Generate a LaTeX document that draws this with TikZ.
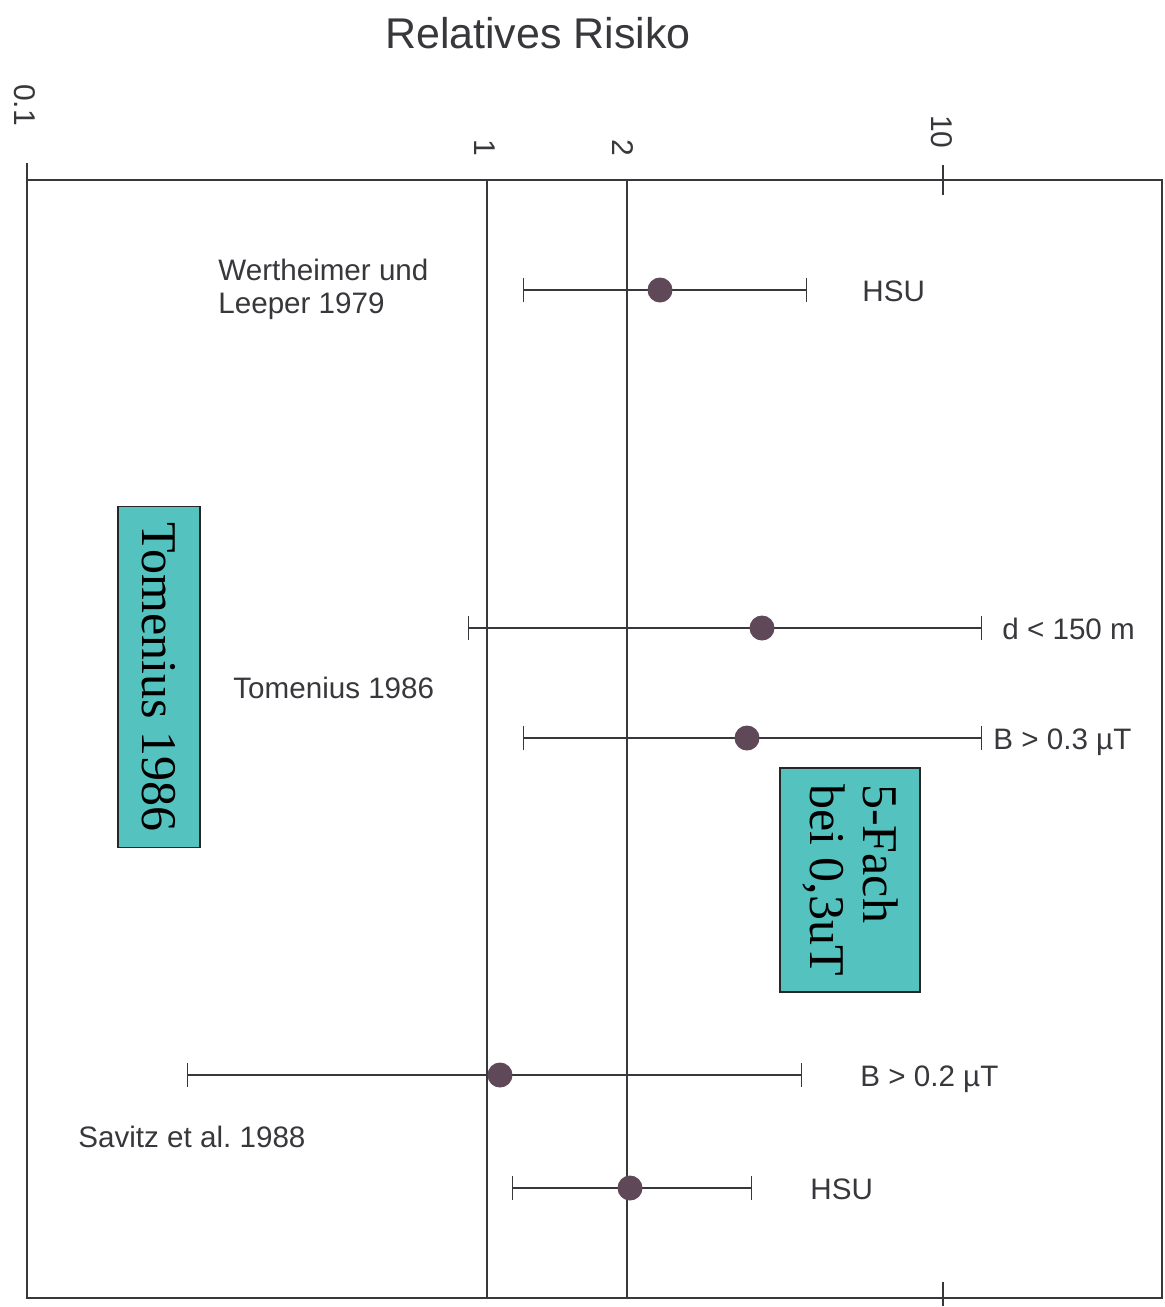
\documentclass[tikz,border=0pt]{standalone}
\usepackage{fontspec}
\setmainfont{Liberation Serif}
\setsansfont{Liberation Sans}
\usetikzlibrary{arrows.meta}
\definecolor{dotcol}{RGB}{95,72,88}
\definecolor{boxcol}{RGB}{84,194,190}
\definecolor{inkcol}{RGB}{55,55,60}

\begin{document}
\begin{tikzpicture}[
        x=0.5pt, y=-0.5pt,
        frame/.style={draw=inkcol, line width=0.8pt},
        errbar/.style={draw=inkcol, line width=0.7pt, {Bar[width=12pt]}-{Bar[width=12pt]}},
        estimate/.style={fill=dotcol, circle, inner sep=0pt, minimum size=12.5pt},
        axlabel/.style={font=\sffamily\fontsize{15}{15}\selectfont, text=inkcol, rotate=-90},
        study/.style={font=\sffamily\fontsize{14.8}{16.5}\selectfont, text=inkcol, anchor=west, align=left, inner sep=0pt},
        cond/.style={font=\sffamily\fontsize{14.8}{16.5}\selectfont, text=inkcol, anchor=base west, inner sep=0pt},
        remark/.style={fill=boxcol, draw=black!85, line width=0.8pt, rotate=-90, inner sep=0pt,
            font=\fontsize{25}{26.5}\selectfont},
    ]
    \useasboundingbox (0,0) rectangle (1164,1307);

    % title and scale
    \node[font=\sffamily\fontsize{21.5}{21.5}\selectfont, text=inkcol] (title) at (538,33) {Relatives Risiko};
    \node[axlabel] (rr01) at (25,105) {0.1};
    \node[axlabel] (rr1) at (485,148) {1};
    \node[axlabel] (rr2) at (623,148) {2};
    \node[axlabel] (rr10) at (942,132) {10};

    % frame
    \coordinate (tl) at (27,180);
    \coordinate (tr) at (1162,180);
    \coordinate (bl) at (27,1298);
    \coordinate (br) at (1162,1298);
    \draw[frame] (27,163) -- (bl) -- (br) -- (tr) -- (tl);
    \draw[frame] (487,180) -- (487,1298);
    \draw[frame] (627,180) -- (627,1298);
    \draw[frame] (943,165) -- (943,195);
    \draw[frame] (943,1282) -- (943,1306);

    % Wertheimer und Leeper
    \node[study] (wl) at (218,289) {Wertheimer und\\Leeper 1979};
    \coordinate (wl-lo) at (523,290);
    \coordinate (wl-hi) at (807,290);
    \draw[errbar] (wl-lo) -- (wl-hi);
    \node[estimate] (wl-est) at (660,290) {};
    \node[cond] (wl-c) at (862,301) {HSU};

    % Tomenius
    \node[study] (tom) at (233,688) {Tomenius 1986};
    \coordinate (td-lo) at (468,628);
    \coordinate (td-hi) at (982,628);
    \draw[errbar] (td-lo) -- (td-hi);
    \node[estimate] (td-est) at (762,628) {};
    \node[cond] (td-c) at (1002,639) {d < 150 m};

    \coordinate (tb-lo) at (523,738);
    \coordinate (tb-hi) at (982,738);
    \draw[errbar] (tb-lo) -- (tb-hi);
    \node[estimate] (tb-est) at (747,738) {};
    \node[cond] (tb-c) at (993,749) {B > 0.3 µT};

    % Savitz
    \node[study] (sav) at (78,1137) {Savitz et al.\ 1988};
    \coordinate (sb-lo) at (187,1075);
    \coordinate (sb-hi) at (802,1075);
    \draw[errbar] (sb-lo) -- (sb-hi);
    \node[estimate] (sb-est) at (500,1075) {};
    \node[cond] (sb-c) at (860,1086) {B > 0.2 µT};

    \coordinate (sh-lo) at (512,1188);
    \coordinate (sh-hi) at (752,1188);
    \draw[errbar] (sh-lo) -- (sh-hi);
    \node[estimate] (sh-est) at (630,1188) {};
    \node[cond] (sh-c) at (810,1199) {HSU};

    % boxes
    \node[remark, minimum width=170.5pt, minimum height=41pt] (tombox) at (159,677) {Tomenius 1986};
    \node[remark, minimum width=112pt, minimum height=70pt, align=left] (fachbox) at (850,880)
        {5-Fach\\bei 0,3uT};
\end{tikzpicture}
\end{document}
